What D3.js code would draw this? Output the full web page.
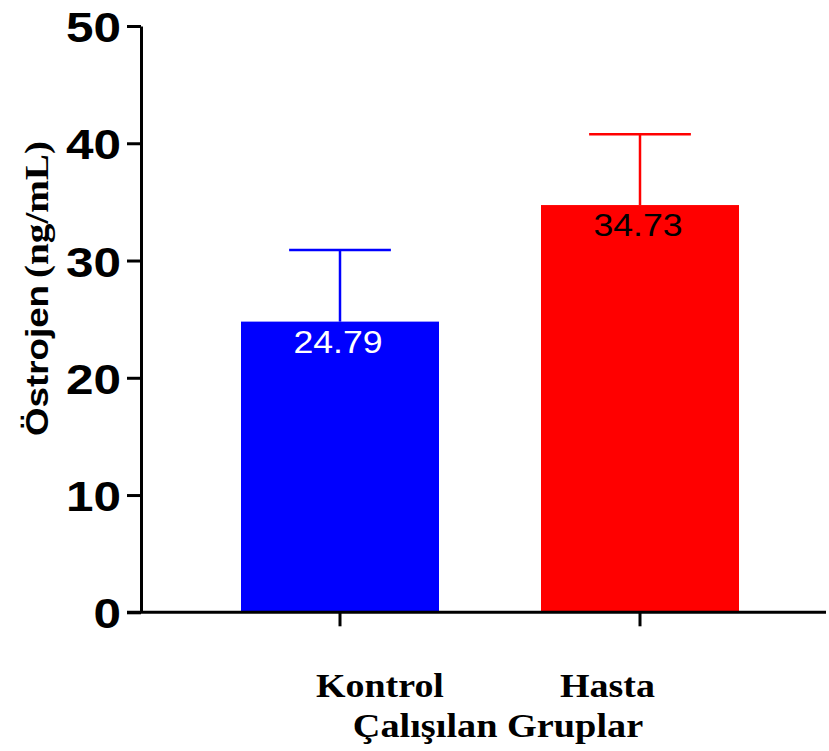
<!DOCTYPE html>
<html><head><meta charset="utf-8">
<script src="https://cdn.jsdelivr.net/npm/d3@7"></script>
<style>html,body{margin:0;padding:0;background:#fff;} svg{display:block}</style>
</head><body>
<script>
// Mean oestrogen level per study group, with SD error bars
const groups = ["Kontrol", "Hasta"];
const means = [24.79, 34.73];
const sds = [6.11, 6.03];
const barColors = ["#0000ff", "#ff0000"];
const valueColors = ["#ffffff", "#000000"];
const yTicks = [0, 10, 20, 30, 40, 50];
const yTitleMain = "Östrojen";
const yTitleUnit = "(ng/mL)";
const xTitle = "Çalışılan Gruplar";

const W = 829, H = 751;
const SANS = "'Liberation Sans', Arial, Helvetica, sans-serif";
const SERIF = "'Liberation Serif', 'Times New Roman', Times, serif";
const WIDE = 1.15; // horizontal widening applied to text

const svg = d3.select("body").append("svg").attr("width", W).attr("height", H);

const y = d3.scaleLinear().domain([0, 50]).range([612.3, 26]);
const x = d3.scaleBand().domain(groups).range([190, 790]).paddingInner(0.34).paddingOuter(0.17);
const axisX = 141;
const mid = g => x(g) + x.bandwidth() / 2;

function widen(sel, k) {
  sel.each(function () {
    const w = this.getComputedTextLength();
    d3.select(this).attr("textLength", w * k).attr("lengthAdjust", "spacingAndGlyphs");
  });
}

const data = groups.map((g, i) => ({ g, mean: means[i], sd: sds[i], fill: barColors[i], txt: valueColors[i] }));

// bars
svg.append("g").selectAll("rect").data(data).join("rect")
  .attr("x", d => x(d.g))
  .attr("y", d => y(d.mean))
  .attr("width", x.bandwidth())
  .attr("height", d => y(0) - y(d.mean))
  .attr("fill", d => d.fill);

// error bars (upper only)
const eb = svg.append("g").selectAll("g").data(data).join("g")
  .attr("stroke", d => d.fill).attr("stroke-width", 2.5);
eb.append("line")
  .attr("x1", d => mid(d.g)).attr("x2", d => mid(d.g))
  .attr("y1", d => y(d.mean)).attr("y2", d => y(d.mean + d.sd));
eb.append("line")
  .attr("x1", d => mid(d.g) - x.bandwidth() * 0.257)
  .attr("x2", d => mid(d.g) + x.bandwidth() * 0.257)
  .attr("y1", d => y(d.mean + d.sd)).attr("y2", d => y(d.mean + d.sd));

// value labels inside bars
svg.append("g").selectAll("text").data(data).join("text")
  .attr("x", d => mid(d.g) - 2)
  .attr("y", d => y(d.mean) + 31)
  .attr("text-anchor", "middle")
  .attr("font-family", SANS).attr("font-size", 31)
  .attr("fill", d => d.txt)
  .text(d => d.mean.toFixed(2))
  .call(widen, WIDE);

// y axis
const yAxis = svg.append("g").attr("transform", `translate(${axisX},0)`)
  .call(d3.axisLeft(y).tickValues(yTicks).tickSize(14).tickSizeOuter(0).tickPadding(6).tickFormat(d3.format("d")));
yAxis.select(".domain").attr("stroke", "#000").attr("stroke-width", 3);
yAxis.selectAll(".tick line").attr("stroke", "#000").attr("stroke-width", 3);
yAxis.selectAll(".tick text")
  .attr("font-family", SANS).attr("font-weight", "bold").attr("font-size", 43)
  .attr("fill", "#000").attr("dy", "0.36em")
  .call(widen, WIDE);

// x axis
const xAxis = svg.append("g").attr("transform", `translate(0,${y(0)})`)
  .call(d3.axisBottom(x).tickSize(14).tickSizeOuter(0).tickFormat(""));
xAxis.select(".domain").remove();
xAxis.selectAll(".tick line").attr("stroke", "#000").attr("stroke-width", 3);
svg.append("line")
  .attr("x1", axisX - 14).attr("x2", 826)
  .attr("y1", y(0)).attr("y2", y(0))
  .attr("stroke", "#000").attr("stroke-width", 3);

// category labels, set off from the tick centres
const labelShift = [-24, -80];
svg.append("g").selectAll("text").data(groups).join("text")
  .attr("x", (g, i) => mid(g) + labelShift[i])
  .attr("y", 697)
  .attr("font-family", SERIF).attr("font-weight", "bold").attr("font-size", 33)
  .attr("fill", "#000")
  .text(g => g)
  .call(widen, WIDE);

// x title
svg.append("text")
  .attr("x", 498).attr("y", 737)
  .attr("text-anchor", "middle")
  .attr("font-family", SERIF).attr("font-weight", "bold").attr("font-size", 33)
  .attr("fill", "#000")
  .text(xTitle)
  .call(widen, 1.16);

// y title
svg.append("text")
  .attr("transform", "translate(48,436) rotate(-90)")
  .attr("font-family", SANS).attr("font-weight", "bold").attr("font-size", 31)
  .attr("fill", "#000")
  .attr("textLength", 151).attr("lengthAdjust", "spacingAndGlyphs")
  .text(yTitleMain);
svg.append("text")
  .attr("transform", "translate(48,278) rotate(-90)")
  .attr("font-family", SERIF).attr("font-weight", "bold").attr("font-size", 33)
  .attr("fill", "#000")
  .attr("textLength", 137).attr("lengthAdjust", "spacingAndGlyphs")
  .text(yTitleUnit);
</script>
</body></html>
